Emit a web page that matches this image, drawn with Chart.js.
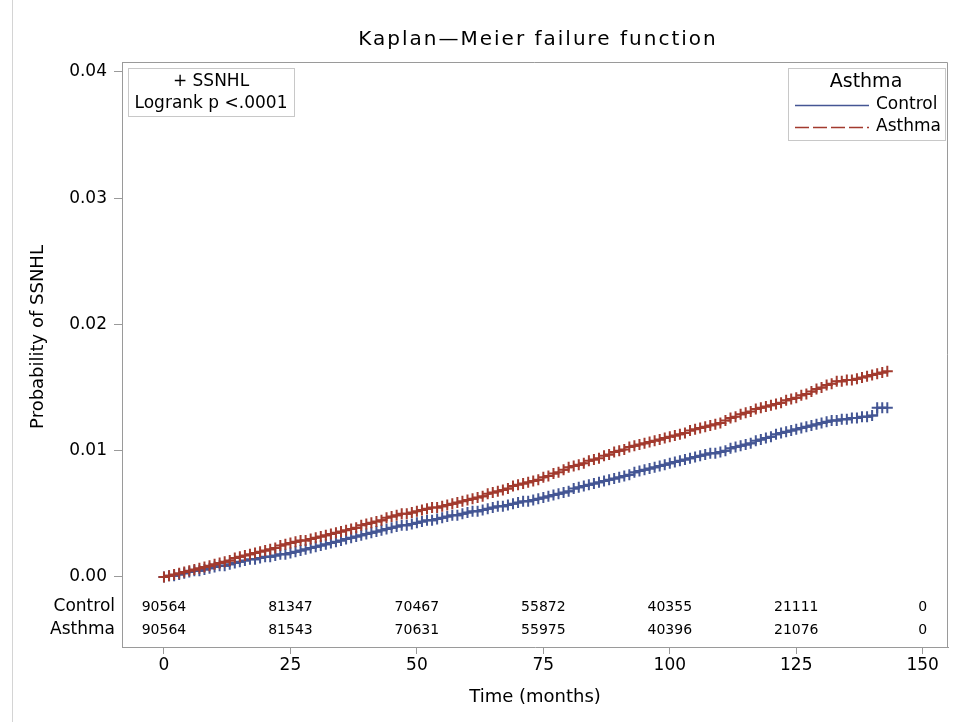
<!DOCTYPE html>
<html><head><meta charset="utf-8">
<script src="https://cdn.jsdelivr.net/npm/chart.js@4/dist/chart.umd.min.js"></script>
<style>html,body{margin:0;padding:0;background:#fff}#wrap{width:957px;height:722px;position:relative}</style>
</head><body><div id="wrap"><canvas id="c" width="957" height="722"></canvas></div>
<script>
// Time in months (one censoring mark per month)
const months = [0,1,2,3,4,5,6,7,8,9,10,11,12,13,14,15,16,17,18,19,20,21,22,23,24,25,26,27,28,29,30,31,32,33,34,35,36,37,38,39,40,41,42,43,44,45,46,47,48,49,50,51,52,53,54,55,56,57,58,59,60,61,62,63,64,65,66,67,68,69,70,71,72,73,74,75,76,77,78,79,80,81,82,83,84,85,86,87,88,89,90,91,92,93,94,95,96,97,98,99,100,101,102,103,104,105,106,107,108,109,110,111,112,113,114,115,116,117,118,119,120,121,122,123,124,125,126,127,128,129,130,131,132,133,134,135,136,137,138,139,140,141,142,143];
// Cumulative probability of SSNHL, Asthma group
const asthmaProb = [0.0000,0.0001,0.0002,0.0003,0.0004,0.0005,0.0006,0.0007,0.0008,0.0009,0.0010,0.0011,0.0012,0.0013,0.0015,0.0016,0.0017,0.0018,0.0019,0.0020,0.0021,0.0022,0.0023,0.0025,0.0026,0.0027,0.0028,0.0029,0.0029,0.0030,0.0031,0.0032,0.0033,0.0034,0.0035,0.0036,0.0037,0.0038,0.0039,0.0041,0.0042,0.0043,0.0044,0.0045,0.0047,0.0048,0.0049,0.0050,0.0050,0.0051,0.0052,0.0053,0.0054,0.0055,0.0055,0.0056,0.0057,0.0058,0.0059,0.0060,0.0061,0.0062,0.0063,0.0064,0.0066,0.0067,0.0068,0.0069,0.0070,0.0072,0.0073,0.0074,0.0075,0.0076,0.0077,0.0079,0.0080,0.0082,0.0083,0.0085,0.0087,0.0088,0.0089,0.0090,0.0092,0.0093,0.0094,0.0096,0.0097,0.0099,0.0100,0.0101,0.0103,0.0104,0.0105,0.0106,0.0107,0.0108,0.0109,0.0110,0.0111,0.0112,0.0113,0.0114,0.0116,0.0117,0.0118,0.0119,0.0120,0.0121,0.0122,0.0124,0.0126,0.0127,0.0129,0.0130,0.0131,0.0133,0.0134,0.0135,0.0136,0.0137,0.0138,0.0140,0.0141,0.0142,0.0144,0.0145,0.0147,0.0149,0.0150,0.0152,0.0153,0.0155,0.0155,0.0156,0.0156,0.0157,0.0158,0.0159,0.0160,0.0161,0.0162,0.0163];
// Cumulative probability of SSNHL, Control group
const controlProb = [0.0000,0.0001,0.0001,0.0002,0.0003,0.0004,0.0005,0.0005,0.0006,0.0007,0.0008,0.0009,0.0009,0.0010,0.0011,0.0012,0.0013,0.0014,0.0014,0.0015,0.0016,0.0016,0.0017,0.0018,0.0018,0.0019,0.0020,0.0021,0.0022,0.0023,0.0024,0.0025,0.0026,0.0027,0.0028,0.0029,0.0030,0.0031,0.0032,0.0033,0.0034,0.0035,0.0036,0.0037,0.0038,0.0039,0.0040,0.0041,0.0041,0.0042,0.0043,0.0044,0.0045,0.0045,0.0046,0.0047,0.0048,0.0049,0.0049,0.0050,0.0051,0.0052,0.0052,0.0053,0.0054,0.0055,0.0056,0.0056,0.0057,0.0058,0.0059,0.0060,0.0060,0.0061,0.0062,0.0063,0.0064,0.0065,0.0066,0.0067,0.0068,0.0070,0.0071,0.0072,0.0073,0.0074,0.0075,0.0076,0.0077,0.0078,0.0079,0.0080,0.0081,0.0083,0.0084,0.0085,0.0086,0.0087,0.0088,0.0089,0.0090,0.0091,0.0092,0.0093,0.0094,0.0095,0.0096,0.0097,0.0098,0.0098,0.0099,0.0100,0.0102,0.0103,0.0104,0.0105,0.0106,0.0108,0.0109,0.0110,0.0111,0.0113,0.0114,0.0115,0.0116,0.0117,0.0118,0.0119,0.0120,0.0121,0.0122,0.0123,0.0124,0.0124,0.0125,0.0125,0.0126,0.0126,0.0127,0.0127,0.0128,0.0134,0.0134,0.0134];
// Axis ticks
const xTicks = [0,25,50,75,100,125,150];
const yTicks = [0.00,0.01,0.02,0.03,0.04];
// Number at risk table
const riskTimes = [0,25,50,75,100,125,150];
const riskControl = [90564,81347,70467,55872,40355,21111,0];
const riskAsthma = [90564,81543,70631,55975,40396,21076,0];
const groupLabels = ['Control','Asthma'];

const FONT = "'DejaVu Sans', sans-serif";
const BLUE = '#445694';
const RED = '#A23A2E';

function toPts(ys){ return months.map((m,i)=>({x:m,y:ys[i]})); }

const decor = {
  id:'decor',
  afterDraw(chart){
    const ctx = chart.ctx, a = chart.chartArea;
    const xs = chart.scales.x;
    ctx.save();
    // outer figure edge
    ctx.strokeStyle = '#d4d4d4'; ctx.lineWidth = 1;
    ctx.beginPath(); ctx.moveTo(12.5,0); ctx.lineTo(12.5,722); ctx.stroke();
    // plot frame top & right
    ctx.strokeStyle = '#9a9a9a';
    ctx.beginPath();
    ctx.moveTo(a.left, a.top+0.5); ctx.lineTo(a.right-0.5, a.top+0.5); ctx.lineTo(a.right-0.5, a.bottom);
    ctx.stroke();
    // title
    ctx.fillStyle = '#000';
    ctx.font = "20px " + FONT;
    ctx.textAlign = 'center'; ctx.textBaseline = 'middle';
    try { ctx.letterSpacing = '2px'; } catch(e){}
    ctx.fillText('Kaplan\u2014Meier failure function', 538, 40);
    try { ctx.letterSpacing = '0px'; } catch(e){}
    // y title
    ctx.save();
    ctx.translate(38, 337); ctx.rotate(-Math.PI/2);
    ctx.font = "18px " + FONT;
    ctx.fillText('Probability of SSNHL', 0, 0);
    ctx.restore();
    // inset box top-left
    ctx.strokeStyle = '#c8c8c8';
    ctx.strokeRect(128.5, 68.5, 166, 48);
    ctx.font = "17px " + FONT;
    ctx.fillText('+ SSNHL', 211, 82);
    ctx.fillText('Logrank p <.0001', 211, 104);
    // legend box
    ctx.strokeRect(788.5, 68.5, 157, 72);
    ctx.font = "19px " + FONT;
    ctx.fillText('Asthma', 866, 82);
    ctx.font = "17px " + FONT;
    ctx.textAlign = 'left';
    const ds = chart.data.datasets;
    const rows = [ds[1], ds[0]];
    rows.forEach((d,i)=>{
      const y = 105 + i*22;
      ctx.strokeStyle = d.borderColor; ctx.lineWidth = 1.5;
      ctx.setLineDash(d.borderDash || []);
      ctx.beginPath(); ctx.moveTo(795, y+0.5); ctx.lineTo(869, y+0.5); ctx.stroke();
      ctx.setLineDash([]);
      ctx.fillStyle = '#000';
      ctx.fillText(d.label, 876, y);
    });
    // at-risk table
    ctx.font = "14px " + FONT;
    ctx.textAlign = 'center';
    const rowY = [607, 630];
    [riskControl, riskAsthma].forEach((arr, r)=>{
      riskTimes.forEach((t,i)=>{
        ctx.fillText(String(arr[i]), xs.getPixelForValue(t), rowY[r]);
      });
    });
    ctx.font = "17px " + FONT;
    ctx.textAlign = 'right';
    groupLabels.forEach((g,r)=> ctx.fillText(g, 115, rowY[r]));
    ctx.restore();
  }
};

new Chart(document.getElementById('c'), {
  type:'line',
  data:{ datasets:[
    { label:'Asthma', data: toPts(asthmaProb), borderColor: RED, backgroundColor: RED,
      borderWidth: 2, borderDash:[14,4], stepped:true, pointStyle:'cross', pointRadius:5.5,
      pointBorderWidth:2, pointBorderColor: RED, order:0, fill:false },
    { label:'Control', data: toPts(controlProb), borderColor: BLUE, backgroundColor: BLUE,
      borderWidth: 2, stepped:true, pointStyle:'cross', pointRadius:5.5,
      pointBorderWidth:2, pointBorderColor: BLUE, order:1, fill:false }
  ]},
  options:{
    responsive:false, animation:false, devicePixelRatio:1,
    layout:{ padding:{ top:62, right:9, left:0, bottom:0 } },
    plugins:{ legend:{display:false}, tooltip:{enabled:false}, title:{display:false} },
    scales:{
      x:{ type:'linear', min:-8.3, max:155,
        afterBuildTicks(s){ s.ticks = xTicks.map(v=>({value:v})); },
        afterFit(s){ s.height = 75; },
        grid:{ display:true, drawOnChartArea:false, drawTicks:true, tickLength:7, color:'#9a9a9a' },
        border:{ display:true, color:'#9a9a9a' },
        ticks:{ color:'#000', padding:1, font:{ family:FONT, size:17 }, maxRotation:0 },
        title:{ display:true, text:'Time (months)', color:'#000', font:{ family:FONT, size:18 }, padding:{ top:0, bottom:14 } }
      },
      y:{ type:'linear', min:-0.005545, max:0.040792,
        afterBuildTicks(s){ s.ticks = yTicks.map(v=>({value:v})); },
        afterFit(s){ s.width = 122; },
        grid:{ display:true, drawOnChartArea:false, drawTicks:true, tickLength:8, color:'#9a9a9a' },
        border:{ display:true, color:'#9a9a9a' },
        ticks:{ color:'#000', padding:7, font:{ family:FONT, size:17 }, callback:(v)=>Number(v).toFixed(2) }
      }
    }
  },
  plugins:[decor]
});
</script>
</body></html>
